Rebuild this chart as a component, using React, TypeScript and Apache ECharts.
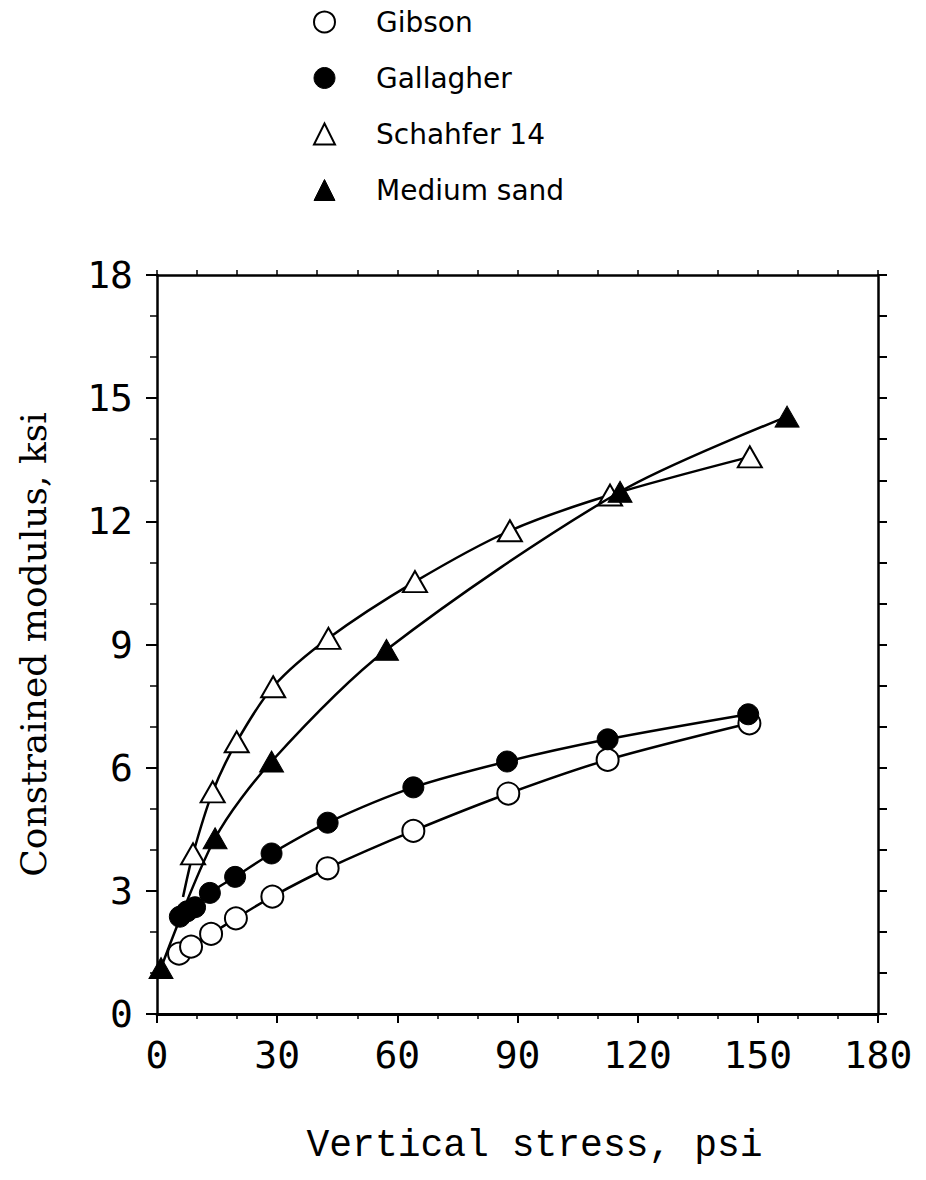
import React, { useEffect, useRef } from "react";
import * as echarts from "echarts";

const xTicks = [0, 30, 60, 90, 120, 150, 180];
const yTicks = [0, 3, 6, 9, 12, 15, 18];

const gibson: [number, number][] = [
  [5.5, 1.47], [8.5, 1.64], [13.5, 1.95], [19.7, 2.33], [28.8, 2.86],
  [42.6, 3.55], [64.0, 4.46], [87.7, 5.37], [112.5, 6.19], [147.9, 7.08],
];
const gallagher: [number, number][] = [
  [5.7, 2.37], [7.5, 2.5], [9.5, 2.6], [13.2, 2.95], [19.5, 3.34], [28.6, 3.91],
  [42.6, 4.66], [64.0, 5.52], [87.4, 6.15], [112.5, 6.69], [147.6, 7.3],
];
const schahferStart: [number, number] = [6.5, 2.85];
const schahfer: [number, number][] = [
  [9.0, 3.9], [13.9, 5.41], [19.9, 6.63], [29.0, 7.97], [42.8, 9.15],
  [64.4, 10.53], [88.1, 11.77], [113.1, 12.64], [148.0, 13.57],
];
const mediumSand: [number, number][] = [
  [1.0, 1.12], [14.5, 4.28], [28.6, 6.15], [57.3, 8.87], [115.6, 12.72], [157.3, 14.55],
];

const seriesNames = ["Gibson", "Gallagher", "Schahfer 14", "Medium sand"];

export default function App() {
  const ref = useRef<HTMLDivElement>(null);
  useEffect(() => {
    if (!ref.current) return;
    const chart = echarts.init(ref.current, null, { renderer: "svg" });
    const black = "#000";
    const lineStyle = { color: black, width: 2.5 };
    const openStyle = { color: "#fff", borderColor: black, borderWidth: 2 };
    const fillStyle = { color: black, borderColor: black, borderWidth: 1 };
    const tickFont = { fontFamily: "DejaVu Sans Mono", fontSize: 38, color: black };
    chart.setOption({
      animation: false,
      backgroundColor: "#fff",
      legend: {
        orient: "vertical",
        left: 308,
        top: 3,
        itemWidth: 21,
        itemHeight: 21,
        itemGap: 28,
        textStyle: {
          fontFamily: "DejaVu Sans",
          fontSize: 28,
          color: black,
          padding: [0, 0, 0, 36],
        },
        data: [
          { name: seriesNames[0], icon: "circle", itemStyle: openStyle },
          { name: seriesNames[1], icon: "circle", itemStyle: fillStyle },
          { name: seriesNames[2], icon: "triangle", itemStyle: openStyle },
          { name: seriesNames[3], icon: "triangle", itemStyle: fillStyle },
        ],
      },
      grid: { left: 157, top: 275, width: 721, height: 739, containLabel: false },
      xAxis: [
        {
          type: "value",
          min: xTicks[0],
          max: xTicks[xTicks.length - 1],
          interval: xTicks[1] - xTicks[0],
          position: "bottom",
          name: "Vertical stress, psi",
          nameLocation: "middle",
          nameGap: 112,
          nameTextStyle: {
            fontFamily: "Liberation Mono",
            fontSize: 38,
            color: black,
            padding: [0, 0, 0, 34],
          },
          axisLine: { show: true, onZero: false, lineStyle: { color: black, width: 3 } },
          axisTick: { show: true, inside: false, length: 9, lineStyle: { color: black, width: 2 } },
          minorTick: { show: true, splitNumber: 3, length: 5, lineStyle: { color: black, width: 1.5 } },
          splitLine: { show: false },
          minorSplitLine: { show: false },
          axisLabel: { ...tickFont, margin: 22 },
        },
        {
          type: "value",
          min: xTicks[0],
          max: xTicks[xTicks.length - 1],
          interval: 10,
          position: "top",
          axisLine: { show: true, onZero: false, lineStyle: { color: black, width: 2.5 } },
          axisTick: { show: true, inside: false, length: 5, lineStyle: { color: black, width: 1.5 } },
          splitLine: { show: false },
          axisLabel: { show: false },
        },
      ],
      yAxis: [
        {
          type: "value",
          min: yTicks[0],
          max: yTicks[yTicks.length - 1],
          interval: yTicks[1] - yTicks[0],
          position: "left",
          name: "Constrained modulus, ksi",
          nameLocation: "middle",
          nameGap: 106,
          nameTextStyle: { fontFamily: "DejaVu Serif", fontSize: 36, color: black },
          axisLine: { show: true, onZero: false, lineStyle: { color: black, width: 2.5 } },
          axisTick: { show: true, inside: false, length: 11, lineStyle: { color: black, width: 2 } },
          minorTick: { show: true, splitNumber: 3, length: 7, lineStyle: { color: black, width: 1.5 } },
          splitLine: { show: false },
          minorSplitLine: { show: false },
          axisLabel: { ...tickFont, margin: 24 },
        },
        {
          type: "value",
          min: yTicks[0],
          max: yTicks[yTicks.length - 1],
          interval: 1,
          position: "right",
          axisLine: { show: true, onZero: false, lineStyle: { color: black, width: 2.5 } },
          axisTick: { show: true, inside: false, length: 9, lineStyle: { color: black, width: 2 } },
          splitLine: { show: false },
          axisLabel: { show: false },
        },
      ],
      series: [
        {
          name: seriesNames[0],
          type: "line",
          smooth: 0.3,
          symbol: "circle",
          symbolSize: 22,
          lineStyle,
          itemStyle: openStyle,
          data: gibson,
          z: 3,
        },
        {
          name: seriesNames[1],
          type: "line",
          smooth: 0.3,
          symbol: "circle",
          symbolSize: 21,
          lineStyle,
          itemStyle: fillStyle,
          data: gallagher,
          z: 4,
        },
        {
          name: seriesNames[2],
          type: "line",
          smooth: 0.3,
          symbol: "triangle",
          symbolSize: [24, 21],
          lineStyle,
          itemStyle: openStyle,
          data: [{ value: schahferStart, symbol: "none" }, ...schahfer],
          z: 5,
        },
        {
          name: seriesNames[3],
          type: "line",
          smooth: 0.3,
          symbol: "triangle",
          symbolSize: [24, 21],
          lineStyle,
          itemStyle: fillStyle,
          data: mediumSand,
          z: 6,
        },
      ],
    });
    return () => chart.dispose();
  }, []);
  return (
    <div
      ref={ref}
      style={{ position: "absolute", left: 0, top: 0, width: 926, height: 1180 }}
    />
  );
}
